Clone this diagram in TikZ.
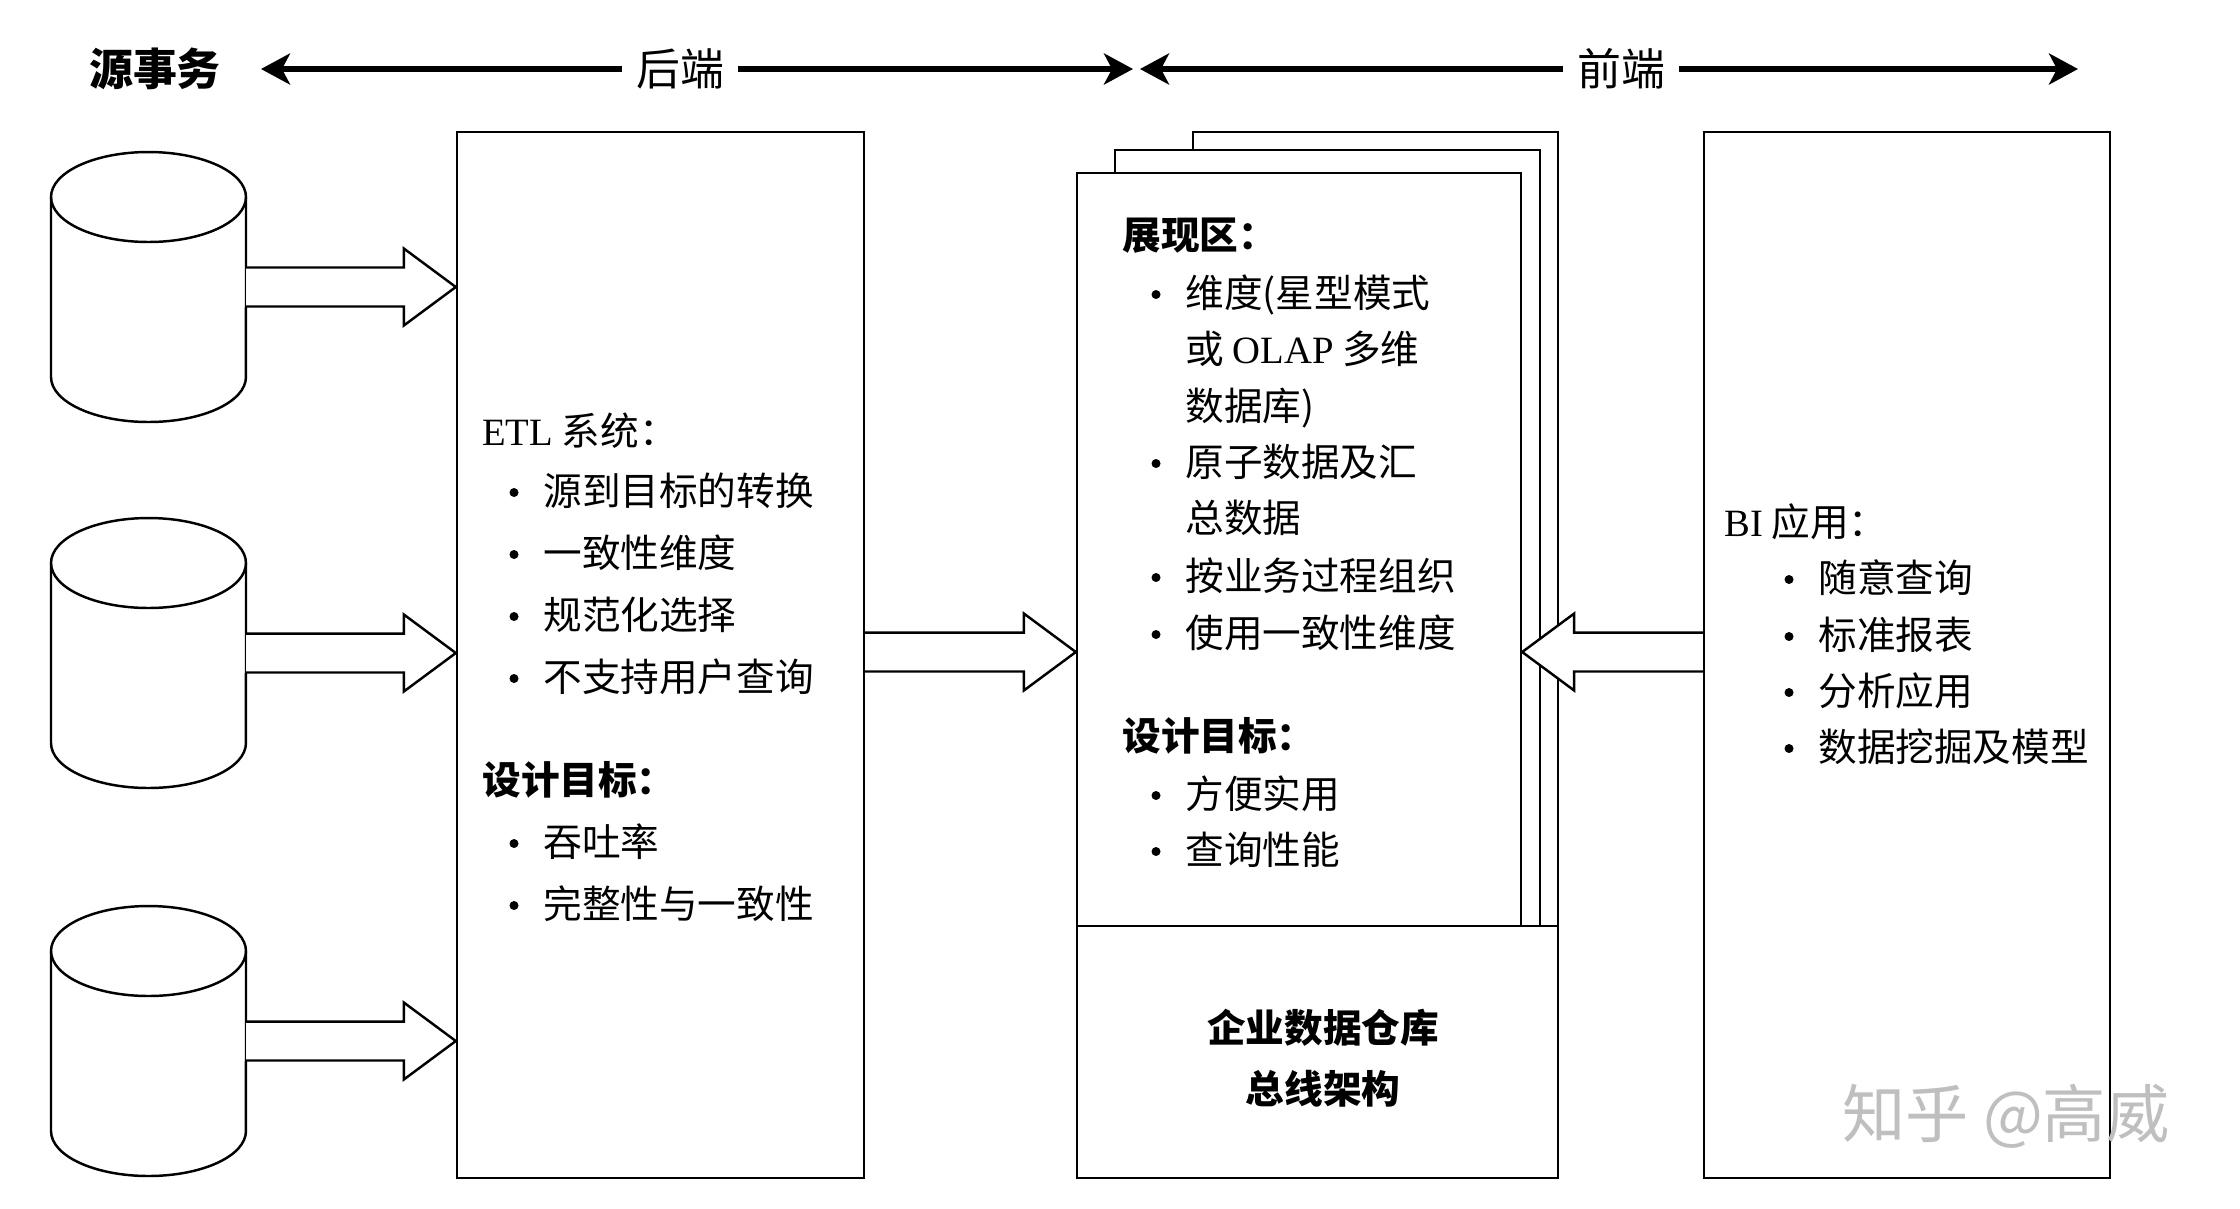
\documentclass[tikz,border=0pt]{standalone}
\usepackage{fontspec}
\setmainfont{Noto Sans CJK SC}
\newfontfamily\latin{Liberation Serif}
\usetikzlibrary{arrows.meta,calc}

\tikzset{
  line/.style={line width=1.4pt},
  box/.style={draw, line width=1.4pt, fill=white, inner sep=0pt},
  txt/.style={anchor=west, inner sep=0pt, text height=0.85em, text depth=0.15em,
    yshift=-0.12cm, font=\fontsize{22}{26}\selectfont},
  head/.style={txt, font=\fontsize{22}{26}\selectfont\bfseries},
  title/.style={inner xsep=0.28cm, inner ysep=0pt, font=\fontsize{25}{30}\selectfont},
  span/.style={line width=3pt, -{Stealth[length=0.58cm, width=0.62cm, inset=0.16cm]}},
}

% hollow block arrow: from, to, +1 right / -1 left
\newcommand{\fatarrow}[3]{%
  \draw[line, fill=white] ($(#1)+(0cm,0.39cm)$) -- ($(#2)+({-1.04cm*(#3)},0.39cm)$)
    -- ($(#2)+({-1.04cm*(#3)},0.77cm)$) -- (#2) -- ($(#2)+({-1.04cm*(#3)},-0.77cm)$)
    -- ($(#2)+({-1.04cm*(#3)},-0.39cm)$) -- ($(#1)+(0cm,-0.39cm)$);}
\newcommand{\bul}[1]{\fill ([xshift=-0.58cm, yshift=0.13cm]#1.west) circle (0.09cm);}

\begin{document}
\begin{tikzpicture}[x=0.02cm, y=-0.02cm]
    \useasboundingbox (0,0) rectangle (2240,1208);

    % top row
    \node[title, font=\fontsize{25}{30}\selectfont\bfseries] (src) at (155,69) {源事务};
    \node[title] (back) at (680,69) {后端};
    \node[title] (front) at (1621,69) {前端};
    \coordinate (backL) at (261,69);
    \coordinate (backR) at (1133,69);
    \coordinate (frontL) at (1140,69);
    \coordinate (frontR) at (2078,69);
    \draw[span] (back.west) -- (backL);
    \draw[span] (back.east) -- (backR);
    \draw[span] (front.west) -- (frontL);
    \draw[span] (front.east) -- (frontR);

    % boxes
    \node[box, minimum width=8.14cm, minimum height=20.92cm] (etl) at (660.5,655) {};
    \node[box, minimum width=7.3cm, minimum height=15.88cm] (sheet3) at (1375.5,529) {};
    \node[box, minimum width=8.5cm, minimum height=15.52cm] (sheet2) at (1327.5,538) {};
    \node[box, minimum width=8.88cm, minimum height=15.06cm] (sheet1) at (1299,549.5) {};
    \node[box, minimum width=9.62cm, minimum height=5.04cm] (bus) at (1317.5,1052) {};
    \node[box, minimum width=8.12cm, minimum height=20.92cm] (bi) at (1907,655) {};

    % source databases
    \foreach \t [count=\i] in {152,518,906} {
        \draw[line] (51,\t+45) -- (51,\t+225)
            arc[start angle=180, end angle=360, x radius=1.95cm, y radius=0.9cm] -- (246,\t+45);
        \draw[line] (148.5,\t+45) ellipse[x radius=1.95cm, y radius=0.9cm];
        \coordinate (src\i) at (246,\t+135);
        \coordinate (in\i) at (src\i -| etl.west);
        \fatarrow{src\i}{in\i}{1}
    }

    \coordinate (mid) at (1000,652);
    \coordinate (etlout) at (etl.east |- mid);
    \coordinate (dwin) at (sheet1.west |- mid);
    \coordinate (biout) at (bi.west |- mid);
    \coordinate (dwright) at (sheet1.east |- mid);
    \fatarrow{etlout}{dwin}{1}
    \fatarrow{biout}{dwright}{-1}

    % ETL system
    \node[txt] (etlhead) at (482,433) {{\latin ETL} 系统：};
    \foreach \y/\t [count=\i] in {493/源到目标的转换, 555/一致性维度, 617/规范化选择, 679/不支持用户查询} {
        \node[txt] (etl\i) at (543,\y) {\t};
        \bul{etl\i}
    }
    \node[head] (etlgoal) at (482,782) {设计目标：};
    \foreach \y/\t [count=\i] in {844/吞吐率, 906/完整性与一致性} {
        \node[txt] (etlg\i) at (543,\y) {\t};
        \bul{etlg\i}
    }

    % presentation area
    \node[head] (dwhead) at (1122,237) {展现区：};
    \node[txt] (dw1) at (1185,295) {维度(星型模式};
    \node[txt] (dw1b) at (1185,351) {或 {\latin OLAP} 多维};
    \node[txt] (dw1c) at (1185,408) {数据库)};
    \node[txt] (dw2) at (1185,464) {原子数据及汇};
    \node[txt] (dw2b) at (1185,520) {总数据};
    \node[txt] (dw3) at (1185,578) {按业务过程组织};
    \node[txt] (dw4) at (1185,635) {使用一致性维度};
    \bul{dw1} \bul{dw2} \bul{dw3} \bul{dw4}
    \node[head] (dwgoal) at (1122,738) {设计目标：};
    \node[txt] (dwg1) at (1185,796) {方便实用};
    \node[txt] (dwg2) at (1185,852) {查询性能};
    \bul{dwg1} \bul{dwg2}

    \node[align=center, font=\fontsize{22}{35}\selectfont\bfseries] (bustext) at (1323,1058)
        {企业数据仓库\\总线架构};

    % BI applications
    \node[txt] (bihead) at (1724,524) {{\latin BI} 应用：};
    \foreach \y/\t [count=\i] in {580/随意查询, 637/标准报表, 693/分析应用, 749/数据挖掘及模型} {
        \node[txt] (bi\i) at (1818,\y) {\t};
        \bul{bi\i}
    }

    \node[text=gray!50, font=\fontsize{36}{40}\selectfont] (mark) at (2006,1116) {知乎 @高威};

\end{tikzpicture}
\end{document}
